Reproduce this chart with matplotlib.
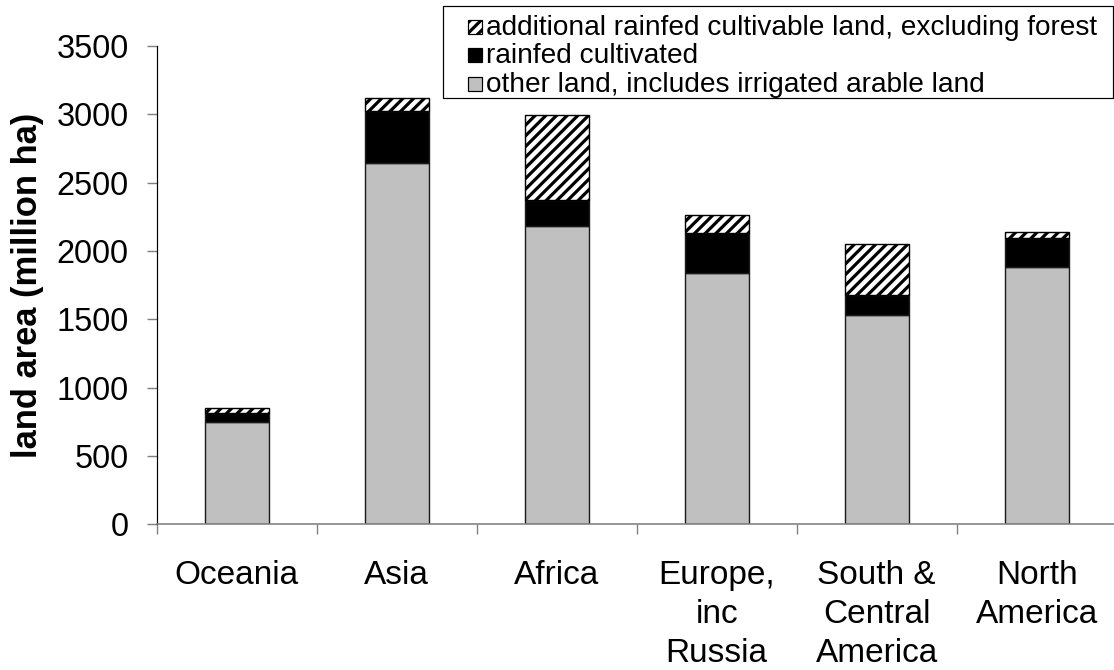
import matplotlib
matplotlib.use("Agg")
import matplotlib.pyplot as plt
from matplotlib.patches import Rectangle
from matplotlib.ticker import FixedLocator

# Land area by region, million ha
regions = ["Oceania", "Asia", "Africa", "Europe,\ninc\nRussia",
           "South &\nCentral\nAmerica", "North\nAmerica"]
other_land = [748, 2641, 2181, 1839, 1531, 1883]
rainfed_cultivated = [66, 384, 191, 294, 149, 213]
additional_rainfed = [37, 91, 621, 129, 372, 44]
series_labels = ["additional rainfed cultivable land, excluding forest",
                 "rainfed cultivated",
                 "other land, includes irrigated arable land"]
y_ticks = [0, 500, 1000, 1500, 2000, 2500, 3000, 3500]

W, H, DPI = 1114, 670, 64


def pt(px):
    """Convert a pixel size to points at the figure dpi."""
    return px * 72.0 / DPI


plt.rcParams["font.family"] = ["Liberation Sans", "DejaVu Sans"]
plt.rcParams["hatch.linewidth"] = pt(3.2)
plt.rcParams["hatch.color"] = "black"

fig = plt.figure(figsize=(W / DPI, H / DPI), dpi=DPI)
ax = fig.add_axes([156.7 / W, (H - 524.3) / H, 960 / W, 478.3 / H])

x = list(range(len(regions)))
bw = 0.4
edge = dict(edgecolor="#1a1a1a", linewidth=pt(1.4))

b_other = ax.bar(x, other_land, bw, color="#c0c0c0", **edge)
b_rain = ax.bar(x, rainfed_cultivated, bw, bottom=other_land, color="black", **edge)
tops = [a + b for a, b in zip(other_land, rainfed_cultivated)]
b_add = ax.bar(x, additional_rainfed, bw, bottom=tops, color="white",
               hatch="//", edgecolor="black", linewidth=pt(1.4))

ax.set_xlim(-0.5, len(regions) - 0.5)
ax.set_ylim(0, 3500)

# axes styling
for s in ("top", "right"):
    ax.spines[s].set_visible(False)
ax.spines["left"].set_color("black")
ax.spines["left"].set_linewidth(pt(1.2))
ax.spines["bottom"].set_color("#808080")
ax.spines["bottom"].set_linewidth(pt(1.6))

ax.set_yticks(y_ticks)
ax.set_yticklabels([str(v) for v in y_ticks])
ax.tick_params(axis="y", which="major", length=pt(10), width=pt(1.4),
               color="#808080", direction="out", pad=pt(18),
               labelsize=pt(32.5), labelcolor="black")

ax.set_xticks(x)
ax.set_xticklabels(regions, linespacing=1.33)
ax.xaxis.set_minor_locator(FixedLocator([i - 0.5 for i in range(len(regions) + 1)]))
ax.tick_params(axis="x", which="major", length=0, pad=pt(36),
               labelsize=pt(33.4), labelcolor="black")
ax.tick_params(axis="x", which="minor", length=pt(10), width=pt(1.4),
               color="#808080", direction="out")

ax.set_ylabel("land area (million ha)", fontsize=pt(34.5), fontweight="bold")
ax.yaxis.set_label_coords(-0.117, 0.5)

# legend box, drawn in figure pixel coordinates
def fx(px):
    return px / W


def fy(py):
    return 1 - py / H


fig.patches.append(Rectangle((fx(443), fy(97.5)), fx(1113) - fx(443), fy(6.5) - fy(97.5),
                             transform=fig.transFigure, facecolor="white",
                             edgecolor="black", linewidth=pt(1.2), zorder=5))
legend_styles = [dict(facecolor="white", hatch="//", edgecolor="black"),
                 dict(facecolor="black", edgecolor="black"),
                 dict(facecolor="#c0c0c0", edgecolor="black")]
baselines = [35.0, 63.3, 91.7]
for label, style, base in zip(series_labels, legend_styles, baselines):
    fig.patches.append(Rectangle((fx(468), fy(base - 1)), fx(482) - fx(468),
                                 fy(base - 15) - fy(base - 1),
                                 transform=fig.transFigure, linewidth=pt(1.2),
                                 zorder=6, **style))
    fig.text(fx(486), fy(base), label, fontsize=pt(28), ha="left", va="baseline",
             zorder=7)

fig.savefig("out.png", dpi=DPI)
